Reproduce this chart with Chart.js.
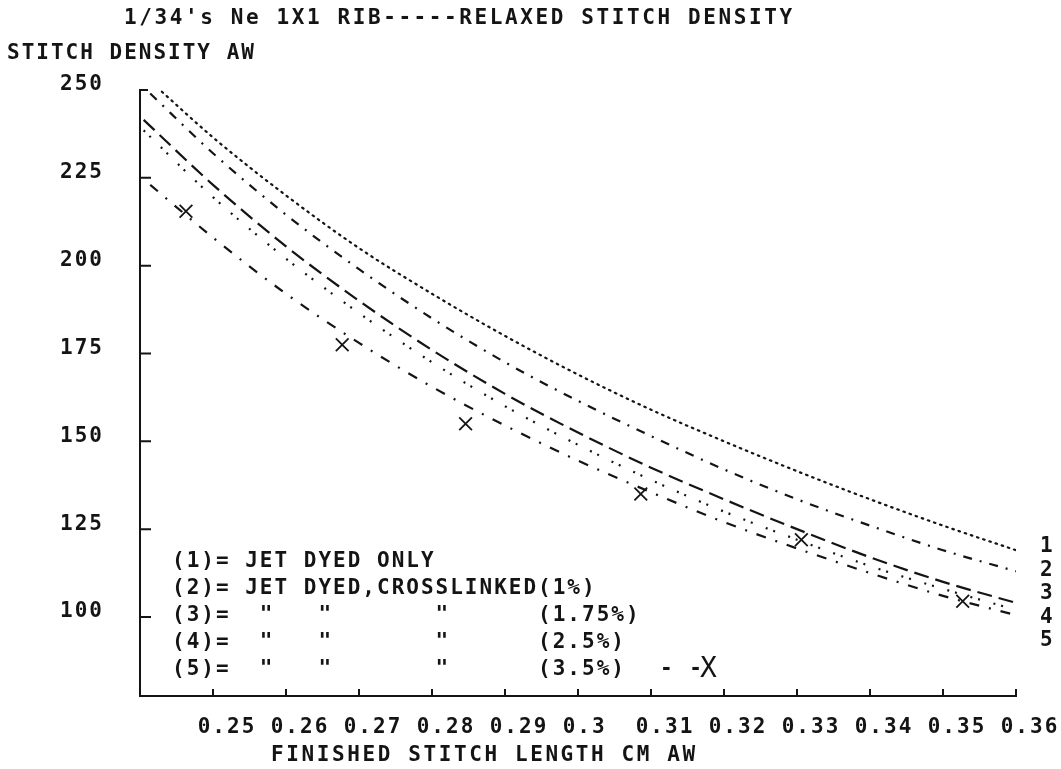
<!DOCTYPE html>
<html>
<head>
<meta charset="utf-8">
<script src="https://cdn.jsdelivr.net/npm/chart.js@4.4.1/dist/chart.umd.min.js"></script>
<style>
  html, body { margin: 0; padding: 0; background: #fff; }
  #wrap { width: 1061px; height: 769px; }
</style>
</head>
<body>
<div id="wrap"><canvas id="stitchChart" width="1061" height="769"></canvas></div>
<script>
// stitch length (cm) where the curves were read
const xGrid = [0.25, 0.26, 0.27, 0.28, 0.29, 0.30, 0.31, 0.32, 0.33, 0.34, 0.35, 0.36];
const jetDyedOnly    = [236.5, 220, 205, 192, 180, 169, 159, 150, 141.5, 133.5, 126, 119];
const crosslinked1   = [232, 214.5, 199, 185, 172.5, 161.5, 151.5, 142, 133.5, 126, 119, 113];
const crosslinked175 = [223, 205.5, 190, 176, 163.5, 152.5, 142.5, 133.5, 125, 117, 110, 104];
const crosslinked25  = [219.5, 202, 186.5, 172.5, 160, 149, 139, 130, 122, 114.5, 108, 102];
const crosslinked35  = [208, 192, 178, 165.5, 154.5, 144.5, 135.5, 127, 119.5, 112.5, 106, 100.5];
// where each curve starts at the left edge
const startX = [0.243, 0.2414, 0.2405, 0.2405, 0.2414];
const startY = [249.5, 249, 241.5, 238.5, 223];
// measured points (3.5%)  -- X
const measuredX = [0.2463, 0.2677, 0.2846, 0.3086, 0.3306, 0.3527];
const measuredY = [215.5, 177.5, 155, 135, 122, 104.5];

const yTicks = [100, 125, 150, 175, 200, 225, 250];
const xTicks = [0.25, 0.26, 0.27, 0.28, 0.29, 0.30, 0.31, 0.32, 0.33, 0.34, 0.35, 0.36];
const xTickLabels = ['0.25', '0.26', '0.27', '0.28', '0.29', '0.3', '0.31', '0.32', '0.33', '0.34', '0.35', '0.36'];
const curveNames = ['1', '2', '3', '4', '5'];

const INK = '#141414';
const FONT = 'DejaVu Sans Mono';
const SPACING = '2px';

function curve(i, vals) {
  return [{ x: startX[i], y: startY[i] }].concat(xGrid.map((x, k) => ({ x: x, y: vals[k] })));
}

const lineBase = {
  showLine: true,
  pointRadius: 0,
  borderColor: INK,
  borderWidth: 2.2,
  cubicInterpolationMode: 'monotone',
  fill: false
};

// all the plotter text that is not an axis tick
const plotterText = {
  id: 'plotterText',
  beforeLayout(chart) { chart.ctx.letterSpacing = SPACING; },
  beforeDraw(chart) { chart.ctx.letterSpacing = SPACING; },
  afterDraw(chart) {
    const { ctx, scales: { x, y } } = chart;
    ctx.save();
    ctx.strokeStyle = INK;
    ctx.fillStyle = INK;

    // tick marks point inwards
    ctx.lineWidth = 2;
    ctx.beginPath();
    yTicks.forEach(v => {
      const py = y.getPixelForValue(v);
      ctx.moveTo(x.left, py);
      ctx.lineTo(x.left + (v === 250 ? 8 : 11), py);
    });
    xTicks.forEach(v => {
      const px = x.getPixelForValue(v);
      ctx.moveTo(px, y.bottom);
      ctx.lineTo(px, y.bottom - 7);
    });
    ctx.stroke();

    const font = 'bold 21px "' + FONT + '"';
    ctx.font = font;
    ctx.textAlign = 'left';
    ctx.textBaseline = 'middle';
    ctx.letterSpacing = '2.6px';
    ctx.fillText("1/34's Ne 1X1 RIB-----RELAXED STITCH DENSITY", 124, 19);
    ctx.fillText('FINISHED STITCH LENGTH CM AW', 271, 756);
    ctx.letterSpacing = SPACING;
    ctx.fillText('STITCH DENSITY AW', 7, 54);

    const legendRows = [
      '(1)= JET DYED ONLY',
      '(2)= JET DYED,CROSSLINKED(1%)',
      '(3)=  "   "       "      (1.75%)',
      '(4)=  "   "       "      (2.5%)',
      '(5)=  "   "       "      (3.5%)'
    ];
    legendRows.forEach((t, i) => ctx.fillText(t, 172, 562 + i * 27));
    ctx.fillText('- -', 660, 670);
    ctx.font = '28px "' + FONT + '"';
    ctx.fillText('X', 700, 670);

    ctx.font = font;
    curveNames.forEach((t, i) => ctx.fillText(t, 1040, 547 + i * 23.5));
    ctx.restore();
  }
};

new Chart(document.getElementById('stitchChart'), {
  type: 'scatter',
  data: {
    datasets: [
      Object.assign({ label: '1', data: curve(0, jetDyedOnly), borderDash: [1.5, 5], borderCapStyle: 'round' }, lineBase),
      Object.assign({ label: '2', data: curve(1, crosslinked1), borderDash: [9, 8, 2, 8] }, lineBase),
      Object.assign({ label: '3', data: curve(2, crosslinked175), borderDash: [15, 7] }, lineBase),
      Object.assign({ label: '4', data: curve(3, crosslinked25), borderDash: [2, 6, 2, 14] }, lineBase),
      Object.assign({ label: '5', data: curve(4, crosslinked35), borderDash: [10, 10, 2, 10] }, lineBase),
      {
        label: 'measured',
        data: measuredX.map((x, i) => ({ x: x, y: measuredY[i] })),
        showLine: false,
        pointStyle: 'crossRot',
        pointRadius: 9,
        borderWidth: 1.8,
        borderColor: INK
      }
    ]
  },
  options: {
    responsive: false,
    animation: false,
    layout: { padding: { top: 90, right: 45, bottom: 0, left: 0 } },
    plugins: {
      legend: { display: false },
      tooltip: { enabled: false },
      title: { display: false }
    },
    scales: {
      x: {
        type: 'linear',
        min: 0.24,
        max: 0.36,
        afterBuildTicks: s => { s.ticks = xTicks.map(v => ({ value: v })); },
        afterFit: s => { s.height = 73; s.paddingLeft = 0; s.paddingRight = 0; },
        grid: { display: false, drawTicks: false },
        border: { display: true, color: INK, width: 2 },
        ticks: {
          color: INK,
          font: { family: FONT, size: 21, weight: 'bold' },
          padding: 19,
          labelOffset: 14,
          maxRotation: 0,
          autoSkip: false,
          callback: (v, i) => xTickLabels[i].padEnd(4, ' ')
        }
      },
      y: {
        type: 'linear',
        min: 77.5,
        max: 250,
        afterBuildTicks: s => { s.ticks = yTicks.map(v => ({ value: v })); },
        afterFit: s => { s.width = 140; s.paddingTop = 0; s.paddingBottom = 0; },
        grid: { display: false, drawTicks: false },
        border: { display: true, color: INK, width: 2 },
        ticks: {
          color: INK,
          font: { family: FONT, size: 21, weight: 'bold' },
          padding: 36,
          labelOffset: -5,
          autoSkip: false,
          callback: v => String(v)
        }
      }
    }
  },
  plugins: [plotterText]
});
</script>
</body>
</html>
